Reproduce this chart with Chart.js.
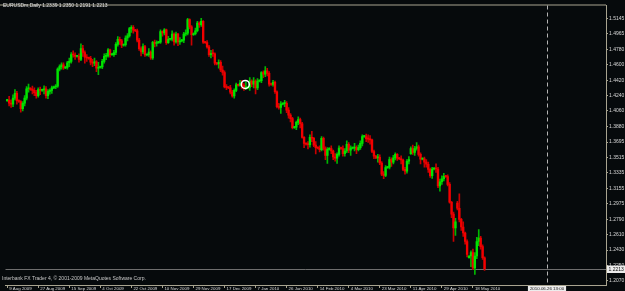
<!DOCTYPE html>
<html>
<head>
<meta charset="utf-8">
<script src="https://cdn.jsdelivr.net/npm/chart.js@4.4.0/dist/chart.umd.min.js"></script>
<style>
    html, body { margin: 0; padding: 0; background: #060a0c; overflow: hidden; }
    canvas { display: block; }
</style>
</head>
<body>
<canvas id="chart" width="625" height="291"></canvas>
<script>
// EURUSDm daily bars, 9 Aug 2009 .. 25 May 2010 (one entry per bar)
const opens = [
    1.4180,1.4185,1.4150,1.4140,1.4210,1.4265,1.4180,1.4170,1.4085,1.4150,
    1.4210,1.4320,1.4325,1.4310,1.4300,1.4275,1.4240,1.4310,1.4300,1.4305,
    1.4320,1.4240,1.4290,1.4300,1.4330,1.4340,1.4350,1.4550,1.4580,1.4600,
    1.4565,1.4570,1.4625,1.4640,1.4720,1.4715,1.4700,1.4700,1.4665,1.4790,
    1.4745,1.4690,1.4680,1.4675,1.4630,1.4620,1.4635,1.4560,1.4570,1.4575,
    1.4640,1.4700,1.4705,1.4775,1.4720,1.4720,1.4745,1.4840,1.4900,1.4880,
    1.4830,1.4835,1.4915,1.4940,1.5025,1.5040,1.5005,1.5000,1.4890,1.4790,
    1.4750,1.4815,1.4715,1.4720,1.4750,1.4680,1.4865,1.4850,1.4860,1.4865,
    1.4990,1.4975,1.5010,1.4860,1.4900,1.4900,1.4960,1.4870,1.4960,1.4870,
    1.4880,1.4890,1.4960,1.4970,1.5130,1.5045,1.4955,1.4965,1.5000,1.5090,
    1.5070,1.5110,1.4865,1.4860,1.4810,1.4720,1.4735,1.4730,1.4620,1.4610,
    1.4630,1.4540,1.4510,1.4340,1.4335,1.4330,1.4280,1.4235,1.4300,1.4365,
    1.4360,1.4385,1.4360,1.4330,1.4330,1.4335,1.4410,1.4375,1.4410,1.4330,
    1.4410,1.4415,1.4510,1.4490,1.4530,1.4500,1.4375,1.4370,1.4395,1.4285,
    1.4110,1.4100,1.4140,1.4145,1.4150,1.4070,1.4010,1.3970,1.3865,1.3870,
    1.3925,1.3960,1.3910,1.3750,1.3680,1.3670,1.3665,1.3750,1.3740,1.3660,
    1.3630,1.3625,1.3605,1.3740,1.3620,1.3540,1.3610,1.3620,1.3590,1.3520,
    1.3505,1.3550,1.3625,1.3620,1.3560,1.3590,1.3670,1.3600,1.3625,1.3625,
    1.3630,1.3605,1.3630,1.3680,1.3760,1.3760,1.3735,1.3730,1.3720,1.3585,
    1.3530,1.3510,1.3515,1.3450,1.3320,1.3305,1.3395,1.3400,1.3490,1.3460,
    1.3510,1.3550,1.3505,1.3500,1.3485,1.3375,1.3355,1.3470,1.3560,1.3620,
    1.3575,1.3620,1.3640,1.3550,1.3495,1.3500,1.3460,1.3435,1.3375,1.3300,
    1.3380,1.3385,1.3380,1.3180,1.3230,1.3265,1.3295,1.3290,1.3200,1.2990,
    1.2850,1.2690,1.2980,1.2920,1.2790,1.2700,1.2630,1.2530,1.2340,1.2360,
    1.2400,1.2220,1.2360,1.2530,1.2570,1.2470,1.2339
];
const highs = [
    1.4195,1.4230,1.4190,1.4250,1.4310,1.4290,1.4190,1.4180,1.4170,1.4240,
    1.4345,1.4375,1.4335,1.4350,1.4330,1.4300,1.4330,1.4340,1.4315,1.4355,
    1.4345,1.4310,1.4320,1.4350,1.4350,1.4370,1.4565,1.4600,1.4625,1.4625,
    1.4580,1.4640,1.4680,1.4745,1.4765,1.4740,1.4710,1.4730,1.4845,1.4830,
    1.4765,1.4720,1.4690,1.4700,1.4665,1.4680,1.4650,1.4630,1.4585,1.4665,
    1.4730,1.4735,1.4790,1.4785,1.4730,1.4770,1.4860,1.4930,1.4925,1.4900,
    1.4845,1.4940,1.4965,1.5040,1.5060,1.5060,1.5015,1.5020,1.4910,1.4810,
    1.4845,1.4830,1.4730,1.4790,1.4765,1.4875,1.4890,1.4880,1.4875,1.5010,
    1.5000,1.5025,1.5020,1.4935,1.4910,1.5000,1.4975,1.4985,1.4970,1.4920,
    1.4900,1.4980,1.5010,1.5145,1.5140,1.5060,1.4975,1.5030,1.5110,1.5105,
    1.5145,1.5120,1.4875,1.4885,1.4830,1.4770,1.4780,1.4740,1.4630,1.4660,
    1.4650,1.4585,1.4530,1.4370,1.4345,1.4360,1.4300,1.4320,1.4385,1.4375,
    1.4420,1.4420,1.4380,1.4400,1.4345,1.4450,1.4425,1.4450,1.4425,1.4440,
    1.4425,1.4520,1.4530,1.4580,1.4560,1.4520,1.4385,1.4420,1.4410,1.4295,
    1.4150,1.4170,1.4155,1.4185,1.4170,1.4100,1.4030,1.3985,1.3880,1.3940,
    1.3990,1.3975,1.3925,1.3760,1.3690,1.3700,1.3780,1.3820,1.3750,1.3700,
    1.3640,1.3650,1.3760,1.3755,1.3640,1.3630,1.3630,1.3650,1.3600,1.3560,
    1.3570,1.3650,1.3635,1.3650,1.3620,1.3710,1.3690,1.3650,1.3635,1.3680,
    1.3650,1.3660,1.3710,1.3780,1.3770,1.3790,1.3780,1.3770,1.3730,1.3600,
    1.3540,1.3550,1.3545,1.3465,1.3350,1.3420,1.3410,1.3520,1.3510,1.3540,
    1.3570,1.3560,1.3515,1.3535,1.3495,1.3400,1.3490,1.3525,1.3640,1.3660,
    1.3645,1.3690,1.3660,1.3570,1.3510,1.3520,1.3490,1.3460,1.3390,1.3400,
    1.3395,1.3440,1.3400,1.3260,1.3300,1.3330,1.3305,1.3310,1.3220,1.3000,
    1.2875,1.2800,1.3000,1.3090,1.2800,1.2760,1.2640,1.2550,1.2365,1.2420,
    1.2440,1.2400,1.2580,1.2670,1.2590,1.2490,1.2350
];
const lows = [
    1.4170,1.4120,1.4100,1.4110,1.4190,1.4140,1.4160,1.4045,1.4060,1.4120,
    1.4190,1.4280,1.4300,1.4260,1.4240,1.4210,1.4220,1.4250,1.4290,1.4260,
    1.4210,1.4205,1.4255,1.4265,1.4320,1.4320,1.4335,1.4530,1.4550,1.4545,
    1.4555,1.4550,1.4580,1.4620,1.4690,1.4665,1.4690,1.4630,1.4650,1.4700,
    1.4620,1.4640,1.4665,1.4600,1.4580,1.4590,1.4520,1.4485,1.4560,1.4555,
    1.4620,1.4660,1.4690,1.4690,1.4710,1.4700,1.4720,1.4820,1.4840,1.4800,
    1.4820,1.4820,1.4880,1.4925,1.4980,1.4970,1.4990,1.4870,1.4770,1.4705,
    1.4730,1.4700,1.4705,1.4700,1.4665,1.4665,1.4810,1.4820,1.4850,1.4850,
    1.4935,1.4950,1.4840,1.4850,1.4890,1.4880,1.4830,1.4855,1.4825,1.4840,
    1.4870,1.4860,1.4940,1.4950,1.5020,1.4830,1.4945,1.4950,1.4985,1.5040,
    1.5050,1.4850,1.4850,1.4795,1.4700,1.4680,1.4700,1.4600,1.4600,1.4560,
    1.4520,1.4480,1.4330,1.4310,1.4320,1.4260,1.4220,1.4210,1.4285,1.4350,
    1.4350,1.4320,1.4300,1.4310,1.4320,1.4300,1.4345,1.4330,1.4260,1.4310,
    1.4400,1.4390,1.4450,1.4460,1.4470,1.4350,1.4360,1.4350,1.4265,1.4095,
    1.4080,1.4030,1.4130,1.4110,1.4040,1.3975,1.3930,1.3850,1.3855,1.3840,
    1.3900,1.3860,1.3740,1.3630,1.3660,1.3615,1.3635,1.3700,1.3640,1.3555,
    1.3615,1.3580,1.3590,1.3600,1.3490,1.3445,1.3600,1.3560,1.3490,1.3470,
    1.3445,1.3530,1.3610,1.3530,1.3530,1.3570,1.3570,1.3540,1.3615,1.3590,
    1.3560,1.3590,1.3610,1.3650,1.3750,1.3700,1.3690,1.3670,1.3570,1.3500,
    1.3500,1.3460,1.3430,1.3300,1.3265,1.3290,1.3385,1.3380,1.3410,1.3440,
    1.3485,1.3480,1.3490,1.3440,1.3360,1.3320,1.3330,1.3440,1.3550,1.3550,
    1.3540,1.3600,1.3530,1.3440,1.3485,1.3400,1.3400,1.3340,1.3280,1.3270,
    1.3370,1.3340,1.3160,1.3120,1.3200,1.3240,1.3280,1.3180,1.2980,1.2810,
    1.2530,1.2600,1.2900,1.2760,1.2660,1.2590,1.2500,1.2350,1.2335,1.2235,
    1.2200,1.2143,1.2330,1.2480,1.2440,1.2320,1.2191
];
const closes = [
    1.4185,1.4150,1.4140,1.4210,1.4265,1.4180,1.4170,1.4085,1.4150,1.4210,
    1.4320,1.4325,1.4310,1.4300,1.4275,1.4240,1.4310,1.4300,1.4305,1.4320,
    1.4240,1.4290,1.4300,1.4330,1.4340,1.4350,1.4550,1.4580,1.4600,1.4565,
    1.4570,1.4625,1.4640,1.4720,1.4715,1.4700,1.4700,1.4665,1.4790,1.4745,
    1.4690,1.4680,1.4675,1.4630,1.4620,1.4635,1.4560,1.4570,1.4575,1.4640,
    1.4700,1.4705,1.4775,1.4720,1.4720,1.4745,1.4840,1.4900,1.4880,1.4830,
    1.4835,1.4915,1.4940,1.5025,1.5040,1.5005,1.5000,1.4890,1.4790,1.4750,
    1.4815,1.4715,1.4720,1.4750,1.4680,1.4865,1.4850,1.4860,1.4865,1.4990,
    1.4975,1.5010,1.4860,1.4900,1.4900,1.4960,1.4870,1.4960,1.4870,1.4880,
    1.4890,1.4960,1.4970,1.5130,1.5045,1.4955,1.4965,1.5000,1.5090,1.5070,
    1.5110,1.4865,1.4860,1.4810,1.4720,1.4735,1.4730,1.4620,1.4610,1.4630,
    1.4540,1.4510,1.4340,1.4335,1.4330,1.4280,1.4235,1.4300,1.4365,1.4360,
    1.4385,1.4360,1.4330,1.4330,1.4335,1.4410,1.4375,1.4410,1.4330,1.4410,
    1.4415,1.4510,1.4490,1.4530,1.4500,1.4375,1.4370,1.4395,1.4285,1.4110,
    1.4100,1.4140,1.4145,1.4150,1.4070,1.4010,1.3970,1.3865,1.3870,1.3925,
    1.3960,1.3910,1.3750,1.3680,1.3670,1.3665,1.3750,1.3740,1.3660,1.3630,
    1.3625,1.3605,1.3740,1.3620,1.3540,1.3610,1.3620,1.3590,1.3520,1.3505,
    1.3550,1.3625,1.3620,1.3560,1.3590,1.3670,1.3600,1.3625,1.3625,1.3630,
    1.3605,1.3630,1.3680,1.3760,1.3760,1.3735,1.3730,1.3720,1.3585,1.3530,
    1.3510,1.3515,1.3450,1.3320,1.3305,1.3395,1.3400,1.3490,1.3460,1.3510,
    1.3550,1.3505,1.3500,1.3485,1.3375,1.3355,1.3470,1.3490,1.3620,1.3575,
    1.3620,1.3640,1.3550,1.3495,1.3500,1.3460,1.3435,1.3375,1.3300,1.3380,
    1.3385,1.3380,1.3180,1.3230,1.3265,1.3295,1.3290,1.3200,1.2990,1.2850,
    1.2690,1.2760,1.2920,1.2790,1.2700,1.2630,1.2530,1.2380,1.2360,1.2400,
    1.2220,1.2360,1.2530,1.2570,1.2470,1.2339,1.2213
];

// price scale labels as shown on the right
const yTicks = [1.5145, 1.4965, 1.4780, 1.4600, 1.4420, 1.4240, 1.4060, 1.3880, 1.3695,
                1.3515, 1.3335, 1.3155, 1.2975, 1.2790, 1.2610, 1.2430, 1.2250, 1.2070];

// time scale: a label every 16 bars
const xTickBars = [0, 16, 32, 48, 64, 80, 96, 112, 128, 144, 160, 176, 192, 208, 224, 240];
const xTickLabels = ['9 Aug 2009', '27 Aug 2009', '15 Sep 2009', '4 Oct 2009', '22 Oct 2009',
                     '10 Nov 2009', '29 Nov 2009', '17 Dec 2009', '7 Jan 2010', '26 Jan 2010',
                     '14 Feb 2010', '4 Mar 2010', '23 Mar 2010', '11 Apr 2010', '29 Apr 2010',
                     '18 May 2010'];

// objects on the chart
const markerBars = [122.7];
const markerPrices = [1.4370];
const bidPrice = 1.2213;
const vLineBar = 278.5;
const vLineLabel = '2010.06.26 13:00';
const headerText = 'EURUSDm,Daily 1.2339 1.2350 1.2191 1.2213';
const footerText = 'Interbank FX Trader 4, \u00a9 2001-2009 MetaQuotes Software Corp.';

const BG = '#060a0c';
const AXIS = '#a8a490';
const TEXT = '#d8d8d8';
const FONT = { family: 'Liberation Sans', size: 5 };
const XFONT = { family: 'Liberation Sans', size: 4.4 };

const isUp = (i) => closes[i] >= opens[i];

const wickData = opens.map((o, i) => ({ x: i, y: [lows[i], highs[i]] }));
const bodyData = opens.map((o, i) => ({ x: i, y: [o, closes[i]] }));
const markerData = markerBars.map((b, i) => ({ x: b, y: markerPrices[i] }));

const terminalPlugin = {
    id: 'terminal',
    beforeDraw(chart) {
        const ctx = chart.ctx;
        ctx.save();
        ctx.fillStyle = BG;
        ctx.fillRect(0, 0, chart.width, chart.height);
        ctx.restore();
    },
    beforeDatasetsDraw(chart) {
        const { ctx, chartArea, scales } = chart;
        ctx.save();
        // frame top
        ctx.strokeStyle = AXIS;
        ctx.lineWidth = 1;
        ctx.beginPath();
        ctx.moveTo(0, chartArea.top - 0.5);
        ctx.lineTo(chartArea.right, chartArea.top - 0.5);
        ctx.stroke();

        // bid line
        const by = Math.round(scales.y.getPixelForValue(bidPrice)) + 0.5;
        ctx.strokeStyle = '#6e6e6e';
        ctx.beginPath();
        ctx.moveTo(chartArea.left, by);
        ctx.lineTo(chartArea.right, by);
        ctx.stroke();

        // vertical dashed line
        const vx = Math.round(scales.x.getPixelForValue(vLineBar)) - 0.5;
        ctx.strokeStyle = '#b4b4b4';
        ctx.setLineDash([4, 3]);
        ctx.beginPath();
        ctx.moveTo(vx, chartArea.top);
        ctx.lineTo(vx, chartArea.bottom);
        ctx.stroke();
        ctx.setLineDash([]);

        // header and footer texts
        ctx.font = FONT.size + 'px ' + FONT.family;
        ctx.textBaseline = 'middle';
        ctx.textAlign = 'left';
        ctx.fillStyle = '#e4e4e4';
        ctx.fillText(headerText, 3, 5.5);
        ctx.fillStyle = '#c8c8c8';
        ctx.fillText(footerText, 2, 279);
        ctx.restore();
    },
    afterDraw(chart) {
        const { ctx, chartArea, scales } = chart;
        ctx.save();
        ctx.font = FONT.size + 'px ' + FONT.family;
        ctx.textBaseline = 'middle';
        ctx.textAlign = 'left';

        // current price box on the price scale
        const by = Math.round(scales.y.getPixelForValue(bidPrice));
        ctx.fillStyle = '#ececec';
        ctx.fillRect(chartArea.right + 1, by - 3.5, chart.width - chartArea.right - 1, 7.5);
        ctx.fillStyle = '#101010';
        ctx.fillText(bidPrice.toFixed(4), chartArea.right + 2.5, by + 0.3);

        // time box of the vertical line
        ctx.font = XFONT.size + 'px ' + XFONT.family;
        const vx = Math.round(scales.x.getPixelForValue(vLineBar)) - 1;
        const w = ctx.measureText(vLineLabel).width + 4;
        ctx.fillStyle = '#ececec';
        ctx.fillRect(vx - w / 2, chartArea.bottom + 1, w, 6);
        ctx.fillStyle = '#101010';
        ctx.fillText(vLineLabel, vx - w / 2 + 2, chartArea.bottom + 4);
        ctx.restore();
    }
};

new Chart(document.getElementById('chart'), {
    data: {
        datasets: [
            {
                type: 'scatter',
                data: markerData,
                order: 0,
                pointRadius: 4,
                pointBorderWidth: 1.5,
                pointBorderColor: '#ffffff',
                pointBackgroundColor: 'rgba(0,0,0,0)',
                showLine: false
            },
            {
                type: 'bar',
                data: bodyData,
                order: 1,
                grouped: false,
                barThickness: 1.7,
                minBarLength: 1,
                borderWidth: 0,
                backgroundColor: (c) => isUp(c.dataIndex) ? '#00e400' : '#f20000'
            },
            {
                type: 'bar',
                data: wickData,
                order: 2,
                grouped: false,
                barThickness: 1,
                borderWidth: 0,
                backgroundColor: (c) => isUp(c.dataIndex) ? '#00b800' : '#c80000'
            }
        ]
    },
    options: {
        responsive: false,
        animation: false,
        devicePixelRatio: 1,
        layout: { padding: { top: 2, left: 0, right: 0, bottom: 0 } },
        plugins: {
            legend: { display: false },
            tooltip: { enabled: false },
            title: { display: false }
        },
        scales: {
            x: {
                type: 'linear',
                position: 'bottom',
                offset: false,
                min: -0.868,
                max: 308.58,
                afterBuildTicks: (s) => { s.ticks = xTickBars.map(v => ({ value: v })); },
                afterFit: (s) => { s.height = 6; },
                grid: { offset: false, drawOnChartArea: false, drawTicks: true, tickLength: 3, color: AXIS, tickColor: AXIS },
                border: { color: AXIS },
                ticks: {
                    autoSkip: false,
                    maxRotation: 0,
                    minRotation: 0,
                    align: 'start',
                    labelOffset: 2,
                    padding: -2,
                    color: TEXT,
                    font: XFONT,
                    callback: (v) => xTickLabels[xTickBars.indexOf(v)]
                }
            },
            y: {
                type: 'linear',
                position: 'right',
                min: 1.20202,
                max: 1.52954,
                afterBuildTicks: (s) => { s.ticks = yTicks.map(v => ({ value: v })); },
                afterFit: (s) => { s.width = 19; },
                grid: { drawOnChartArea: false, drawTicks: true, tickLength: 2, color: AXIS, tickColor: AXIS },
                border: { color: AXIS },
                ticks: {
                    autoSkip: false,
                    padding: 1,
                    color: TEXT,
                    font: FONT,
                    callback: (v) => v.toFixed(4)
                }
            }
        }
    },
    plugins: [terminalPlugin]
});
</script>
</body>
</html>
